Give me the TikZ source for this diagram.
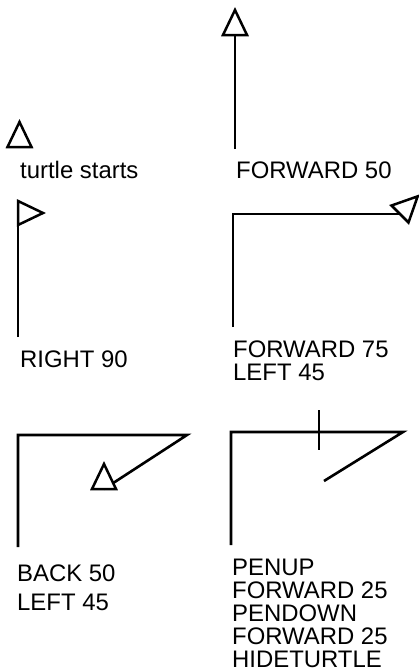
\documentclass[tikz,border=0pt]{standalone}
\usepackage{fontspec}
\setmainfont{Liberation Sans}
\begin{document}
\begin{tikzpicture}[x=1pt,y=-1pt,
  trail/.style={line width=2.6pt,line join=miter},
  tri/.style={line width=2.5pt,line join=miter,fill=white,draw=black},
  lbl/.style={anchor=base west,inner sep=0pt,font=\fontsize{23.9}{23.9}\selectfont},
  turtleshape/.pic={\draw[tri] (-12,0) -- (0,-25) -- (12,0) -- cycle;}]
\useasboundingbox (0,0) rectangle (419,672);
% panel 1
\pic at (19.5,147) {turtleshape};
\node[lbl] (t1) at (20,178) {turtle starts};
% panel 2
\coordinate (a1) at (235,149);
\coordinate (a2) at (235,35);
\draw[trail] (a1) -- (a2);
\pic at (a2) {turtleshape};
\node[lbl] (t2) at (236,178) {FORWARD 50};
% panel 3
\coordinate (b1) at (18,337);
\coordinate (b2) at (18,202);
\draw[trail] (b1) -- (b2);
\pic[rotate=-90] at (18,213) {turtleshape};
\node[lbl] (t3) at (20,367) {RIGHT 90};
% panel 4
\coordinate (c1) at (233,327);
\coordinate (c2) at (233,214);
\coordinate (c3) at (400,214);
\draw[trail] (c1) -- (c2) -- (c3);
\pic[rotate=-45] at (c3) {turtleshape};
\node[lbl] (t4a) at (233,357) {FORWARD 75};
\node[lbl] (t4b) at (233,380) {LEFT 45};
% panel 5
\coordinate (d1) at (18,547);
\coordinate (d2) at (18,435);
\coordinate (d3) at (187,435);
\coordinate (d4) at (104,489);
\draw[trail] (d1) -- (d2) -- (d3) -- (d4);
\pic at (d4) {turtleshape};
\node[lbl] (t5a) at (17,581) {BACK 50};
\node[lbl] (t5b) at (17,610) {LEFT 45};
% panel 6
\coordinate (e1) at (231,545);
\coordinate (e2) at (231,432);
\coordinate (e3) at (403,432);
\coordinate (e4) at (324,481);
\coordinate (f1) at (319,410);
\coordinate (f2) at (319,450);
\draw[trail] (e1) -- (e2) -- (e3) -- (e4);
\draw[trail] (f1) -- (f2);
\node[lbl] (t6a) at (232,575) {PENUP};
\node[lbl] (t6b) at (232,598) {FORWARD 25};
\node[lbl] (t6c) at (232,621) {PENDOWN};
\node[lbl] (t6d) at (232,644) {FORWARD 25};
\node[lbl] (t6e) at (232,667) {HIDETURTLE};
\end{tikzpicture}
\end{document}
